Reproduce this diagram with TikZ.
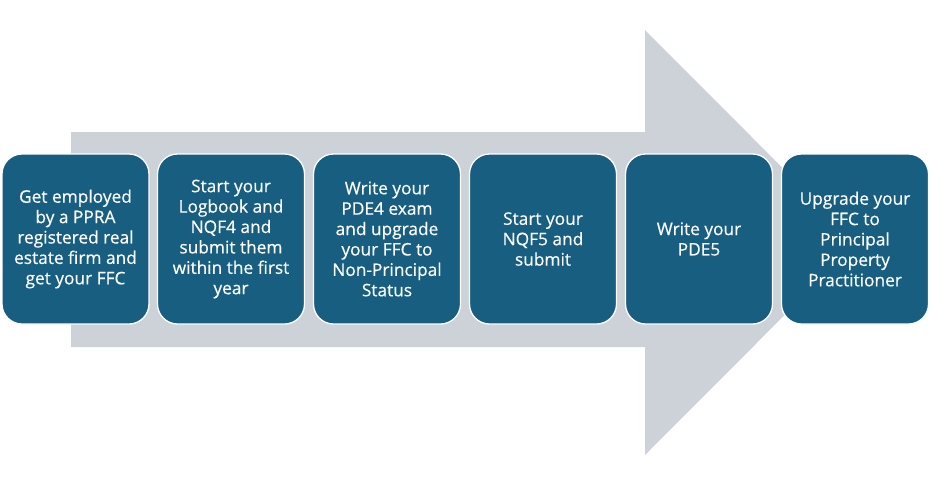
\documentclass[tikz,border=0pt]{standalone}
\usepackage{fontspec}
\setmainfont{Open Sans}[FakeBold=0.4]
\definecolor{boxblue}{HTML}{175E81}
\definecolor{arrowgray}{HTML}{CDD2D8}
\begin{document}
\begin{tikzpicture}[x=1pt,y=-1pt,
  stepbox/.style={draw=white, line width=1.3pt, fill=boxblue, rounded corners=20pt,
    minimum width=147pt, minimum height=170pt, inner sep=0pt, align=center,
    text=white, font=\fontsize{17.3}{20.4}\selectfont}]
\useasboundingbox (0,0) rectangle (930,483);
\fill[arrowgray] (71,132) -- (645,132) -- (645,30) -- (857,242.5) -- (645,455) -- (645,347) -- (71,347) -- cycle;
\node[stepbox] (s1) at (75.5,239) {Get employed\\by a PPRA\\registered real\\estate firm and\\get your FFC};
\node[stepbox] (s2) at (231,239) {Start your\\Logbook and\\NQF4 and\\submit them\\within the first\\year};
\node[stepbox] (s3) at (387,239) {Write your\\PDE4 exam\\and upgrade\\your FFC to\\Non-Principal\\Status};
\node[stepbox] (s4) at (543,239) {Start your\\NQF5 and\\submit};
\node[stepbox] (s5) at (699,239) {Write your\\PDE5};
\node[stepbox] (s6) at (855,239) {Upgrade your\\FFC to\\Principal\\Property\\Practitioner};
\end{tikzpicture}
\end{document}
